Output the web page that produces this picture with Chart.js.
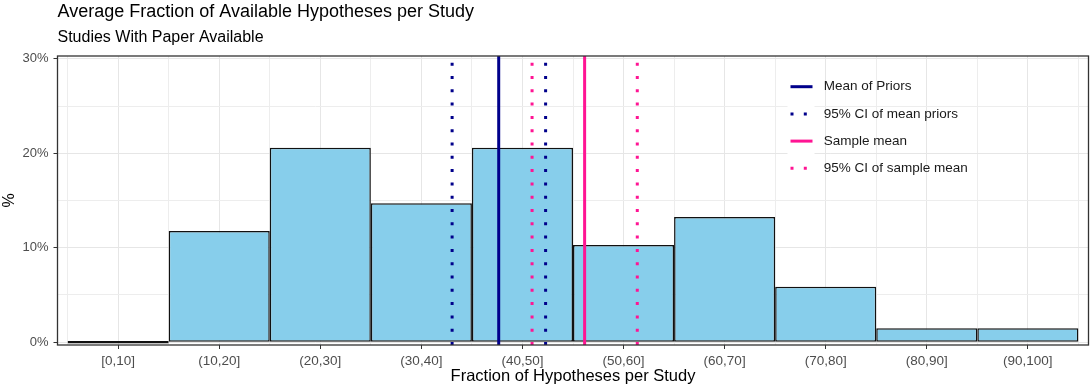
<!DOCTYPE html>
<html>
<head>
<meta charset="utf-8">
<script src="https://cdn.jsdelivr.net/npm/chart.js@4/dist/chart.umd.min.js"></script>
<style>
  html, body { margin: 0; padding: 0; background: #fff; }
</style>
</head>
<body>
<canvas id="chart" width="1090" height="387"></canvas>
<script>
// categories of the histogram (fraction of hypotheses, in %)
const categories = ['[0,10]', '(10,20]', '(20,30]', '(30,40]', '(40,50]',
  '(50,60]', '(60,70]', '(70,80]', '(80,90]', '(90,100]']
const binCenters = [5, 15, 25, 35, 45, 55, 65, 75, 85, 95]
// share of studies in each bin, in %
const percentages = [0, 11.76, 20.59, 14.71, 20.59, 10.29, 13.24, 5.88, 1.47, 1.47]

// reference lines (same units as the x axis)
const meanPriors = 42.65
const ciPriors = [38.04, 47.29]
const sampleMean = 51.15
const ciSample = [45.95, 56.36]

const yTickLabels = [0, 10, 20, 30]
const legendLabels = ['Mean of Priors', '95% CI of mean priors', 'Sample mean', '95% CI of sample mean']

const Y_MIN = -0.3
const Y_MAX = 30.3
const BLUE = '#00008B'
const PINK = '#FF1493'
const DOTS = [3, 10.3]
const FONT = "'Liberation Sans', Arial, Helvetica, sans-serif"

Chart.defaults.font.family = FONT

function vline(x, color, dash) {
  return {
    type: 'line',
    data: [{ x: x, y: Y_MIN }, { x: x, y: Y_MAX }],
    borderColor: color,
    borderWidth: 3,
    borderDash: dash || [],
    borderCapStyle: 'butt',
    pointRadius: 0,
    order: 0
  }
}

// is this tick a labelled one?
function isMajor(c, list) {
  return !!(c && c.tick && list.indexOf(c.tick.value) >= 0)
}

const legendKeys = [
  { color: BLUE, dash: [] },
  { color: BLUE, dash: DOTS },
  { color: PINK, dash: [] },
  { color: PINK, dash: DOTS }
]

// border of the panel + legend inside the plot
const panelPlugin = {
  id: 'panelPlugin',
  afterDatasetsDraw(chart) {
    const ctx = chart.ctx
    const a = chart.chartArea
    const x0 = a.left + 733
    const y0 = a.top + 30.7
    const step = 27.2
    ctx.save()
    ctx.fillStyle = '#fff'
    ctx.fillRect(x0 - 3, y0 - 13.6, 27, step * legendLabels.length)
    legendLabels.forEach(function(lbl, i) {
      const y = y0 + i * step
      ctx.beginPath()
      ctx.strokeStyle = legendKeys[i].color
      ctx.lineWidth = 3
      ctx.lineCap = 'butt'
      ctx.setLineDash(legendKeys[i].dash)
      ctx.moveTo(x0, y)
      ctx.lineTo(x0 + 22, y)
      ctx.stroke()
      ctx.setLineDash([])
      ctx.fillStyle = '#1a1a1a'
      ctx.font = '13.5px ' + FONT
      ctx.textBaseline = 'middle'
      ctx.textAlign = 'left'
      ctx.fillText(lbl, x0 + 33.3, y)
    })
    ctx.restore()
  },
  afterDraw(chart) {
    const ctx = chart.ctx
    const a = chart.chartArea
    ctx.save()
    ctx.strokeStyle = '#333333'
    ctx.lineWidth = 1.3
    ctx.strokeRect(a.left, a.top, a.right - a.left, a.bottom - a.top)
    ctx.restore()
  }
}

new Chart(document.getElementById('chart'), {
  data: {
    datasets: [
      vline(ciPriors[0], BLUE, DOTS),
      vline(ciPriors[1], BLUE, DOTS),
      vline(ciSample[0], PINK, DOTS),
      vline(ciSample[1], PINK, DOTS),
      vline(meanPriors, BLUE),
      vline(sampleMean, PINK),
      {
        type: 'bar',
        data: binCenters.map((c, i) => ({ x: c, y: percentages[i] })),
        backgroundColor: '#87CEEB',
        borderColor: '#111',
        borderWidth: 1.5,
        borderSkipped: false,
        minBarLength: 2.5,
        // the tick step is half a bin, so the bar spans two tick steps
        barPercentage: 2,
        categoryPercentage: 1,
        order: 10
      }
    ]
  },
  options: {
    responsive: false,
    animation: false,
    layout: { padding: { left: 0, right: 1.5, top: 0, bottom: 0 } },
    plugins: {
      legend: { display: false },
      tooltip: { enabled: false },
      title: {
        display: true,
        text: 'Average Fraction of Available Hypotheses per Study',
        align: 'start',
        fullSize: false,
        color: '#000',
        font: { size: 18, weight: 'normal' },
        padding: { top: 1, bottom: 0 }
      },
      subtitle: {
        display: true,
        text: 'Studies With Paper Available',
        align: 'start',
        fullSize: false,
        color: '#000',
        font: { size: 16, weight: 'normal' },
        padding: { top: 5, bottom: 9.2 }
      }
    },
    scales: {
      x: {
        type: 'linear',
        position: 'bottom',
        offset: false,
        min: -1,
        max: 101,
        afterFit: function(scale) { scale.height = 42 },
        ticks: {
          stepSize: 5,
          includeBounds: false,
          autoSkip: false,
          maxRotation: 0,
          padding: 4,
          color: '#4d4d4d',
          font: { size: 13.5 },
          callback: function(v) {
            const i = binCenters.indexOf(v)
            return i >= 0 ? categories[i] : ''
          }
        },
        grid: {
          offset: false,
          color: function(c) { return isMajor(c, binCenters) ? '#e6e6e6' : '#ededed' },
          tickColor: function(c) { return isMajor(c, binCenters) ? '#333' : 'rgba(0,0,0,0)' },
          tickLength: 4
        },
        border: { display: false },
        title: {
          display: true,
          text: 'Fraction of Hypotheses per Study',
          color: '#000',
          font: { size: 16.5 },
          padding: { top: 0, bottom: 1 }
        }
      },
      y: {
        type: 'linear',
        min: Y_MIN,
        max: Y_MAX,
        afterFit: function(scale) { scale.width = 57.5 },
        ticks: {
          stepSize: 5,
          includeBounds: false,
          padding: 5,
          color: '#4d4d4d',
          font: { size: 13 },
          callback: function(v) { return yTickLabels.indexOf(v) >= 0 ? v + '%' : '' }
        },
        grid: {
          color: function(c) { return isMajor(c, yTickLabels) ? '#e6e6e6' : '#ededed' },
          tickColor: function(c) { return isMajor(c, yTickLabels) ? '#333' : 'rgba(0,0,0,0)' },
          tickLength: 4
        },
        border: { display: false },
        title: {
          display: true,
          text: '%',
          color: '#000',
          font: { size: 16 },
          padding: { top: 0, bottom: 0 }
        }
      }
    }
  },
  plugins: [panelPlugin]
})
</script>
</body>
</html>
